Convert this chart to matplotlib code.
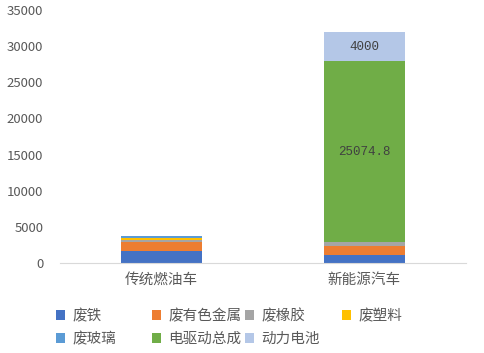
import matplotlib.pyplot as plt
import numpy as np

plt.rcParams["font.family"] = ["Noto Sans CJK SC", "DejaVu Sans"]

categories = ["传统燃油车", "新能源汽车"]
series_names = ["废铁", "废有色金属", "废橡胶", "废塑料", "废玻璃", "电驱动总成", "动力电池"]
fei_tie = [1600, 1050]
fei_youse = [1300, 1250]
fei_xiangjiao = [350, 550]
fei_suliao = [200, 0]
fei_boli = [250, 0]
dianqudong = [0, 25074.8]
dongli_dianchi = [0, 4000]
colors = ["#4472C4", "#ED7D31", "#A5A5A5", "#FFC000", "#5B9BD5", "#70AD47", "#B4C7E7"]
y_ticks = [0, 5000, 10000, 15000, 20000, 25000, 30000, 35000]

series = [fei_tie, fei_youse, fei_xiangjiao, fei_suliao, fei_boli, dianqudong, dongli_dianchi]

fig = plt.figure(figsize=(4.85, 3.53), dpi=100)
ax = fig.add_axes([60 / 485, (353 - 263) / 353, 406 / 485, 253 / 353])

x = np.arange(len(categories))
bottom = np.zeros(len(categories))
handles = []
for name, vals, color in zip(series_names, series, colors):
    vals = np.array(vals, dtype=float)
    bars = ax.bar(x, vals, width=0.4, bottom=bottom, color=color, label=name)
    handles.append(bars)
    bottom += vals

# data labels on the big segments of the new-energy bar
ax.text(1, bottom[1] - dongli_dianchi[1] - dianqudong[1] / 2, "25074.8",
        ha="center", va="center", fontsize=9, color="#404040", family="Liberation Mono")
ax.text(1, bottom[1] - dongli_dianchi[1] / 2, "4000",
        ha="center", va="center", fontsize=9, color="#404040", family="Liberation Mono")

ax.set_xlim(-0.5, 1.5)
ax.set_ylim(0, 35000)
ax.set_yticks(y_ticks)
ax.set_yticklabels([str(t) for t in y_ticks])
ax.set_xticks(x)
ax.set_xticklabels(categories)
ax.tick_params(axis="y", length=0, labelsize=9.5, labelcolor="#595959", pad=12)
ax.tick_params(axis="x", length=0, labelsize=10.5, labelcolor="#595959", pad=7)
for side in ["top", "right", "left"]:
    ax.spines[side].set_visible(False)
ax.spines["bottom"].set_color("#D9D9D9")

# legend entries placed like the Excel layout (two rows, uneven columns)
legend_pos = [(56, 316), (152, 316), (245, 316), (342, 316),
              (56, 339), (152, 339), (245, 339)]
for h, name, (px, py) in zip(handles, series_names, legend_pos):
    leg = fig.legend([h], [name], loc="center left",
                     bbox_to_anchor=(px / 485, 1 - py / 353),
                     frameon=False, fontsize=10.5, handlelength=0.62, handleheight=0.62,
                     handletextpad=0.5, borderpad=0, borderaxespad=0,
                     labelcolor="#595959")

fig.savefig("out.png", dpi=100)
